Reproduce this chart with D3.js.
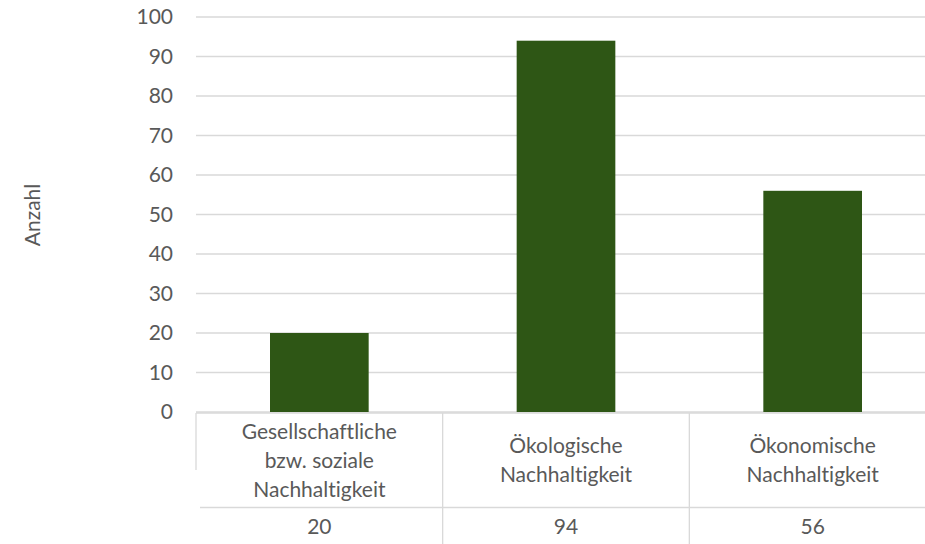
<!DOCTYPE html>
<meta charset="utf-8">
<style>
body { margin: 0; background: #fff; }
text { font-family: Lato, "Open Sans", sans-serif; fill: #595959; font-variant-ligatures: none; }
.grid line { stroke: #d9d9d9; stroke-width: 1.3; }
.table line { stroke: #d9d9d9; stroke-width: 1.3; }
</style>
<svg width="925" height="544"></svg>
<script src="https://d3js.org/d3.v7.min.js"></script>
<script>
// chart data
var categories = [
  ["Gesellschaftliche", "bzw. soziale", "Nachhaltigkeit"],
  ["Ökologische", "Nachhaltigkeit"],
  ["Ökonomische", "Nachhaltigkeit"]
];
var values = [20, 94, 56];
var yTicks = [0, 10, 20, 30, 40, 50, 60, 70, 80, 90, 100];
var yTitle = "Anzahl";

var svg = d3.select("svg");
var plotLeft = 196, plotRight = 936, plotTop = 17, plotBottom = 412;
var fontSize = "21px";

var x = d3.scaleBand()
    .domain(d3.range(values.length))
    .range([plotLeft, plotRight])
    .paddingInner(0.6)
    .paddingOuter(0.3);

var y = d3.scaleLinear()
    .domain([0, 100])
    .range([plotBottom, plotTop]);

// gridlines
svg.append("g")
    .attr("class", "grid")
    .selectAll("line")
    .data(yTicks)
    .enter().append("line")
    .attr("x1", plotLeft)
    .attr("x2", plotRight)
    .attr("y1", function(d) { return y(d); })
    .attr("y2", function(d) { return y(d); });

// y tick labels
svg.append("g")
    .selectAll("text")
    .data(yTicks)
    .enter().append("text")
    .attr("x", 173)
    .attr("y", function(d) { return y(d); })
    .attr("dy", "0.35em")
    .attr("text-anchor", "end")
    .style("font-size", fontSize)
    .text(function(d) { return d; });

// bars
svg.append("g")
    .selectAll("rect")
    .data(values)
    .enter().append("rect")
    .attr("x", function(d, i) { return x(i); })
    .attr("width", x.bandwidth())
    .attr("y", function(d) { return y(d); })
    .attr("height", function(d) { return y(0) - y(d); })
    .attr("fill", "#2e5615");

// y axis title
svg.append("text")
    .attr("transform", "translate(40,215) rotate(-90)")
    .attr("text-anchor", "middle")
    .style("font-size", fontSize)
    .text(yTitle);

// data table below the axis
var step = (plotRight - plotLeft) / values.length;
var rowTop = plotBottom + 1, rowMid = 507.5;
var table = svg.append("g").attr("class", "table");

table.append("line")
    .attr("x1", plotLeft).attr("x2", plotRight)
    .attr("y1", rowTop).attr("y2", rowTop);
table.append("line")
    .attr("x1", plotLeft + 4).attr("x2", plotRight)
    .attr("y1", rowMid).attr("y2", rowMid);
table.append("line")
    .attr("x1", plotLeft).attr("x2", plotLeft)
    .attr("y1", rowTop).attr("y2", 470);
table.selectAll(".sep")
    .data(d3.range(1, values.length))
    .enter().append("line")
    .attr("class", "sep")
    .attr("x1", function(d) { return plotLeft + d * step; })
    .attr("x2", function(d) { return plotLeft + d * step; })
    .attr("y1", rowTop).attr("y2", 544);

var cat = svg.append("g")
    .selectAll("text")
    .data(categories)
    .enter().append("text")
    .attr("text-anchor", "middle")
    .style("font-size", fontSize)
    .attr("transform", function(d, i) {
      var cy = (rowTop + rowMid) / 2 - (d.length - 1) * 29 / 2;
      return "translate(" + (x(i) + x.bandwidth() / 2) + "," + cy + ")";
    });

cat.selectAll("tspan")
    .data(function(d) { return d; })
    .enter().append("tspan")
    .attr("x", 0)
    .attr("y", function(d, j) { return j * 29; })
    .attr("dy", "0.35em")
    .text(function(d) { return d; });

svg.append("g")
    .selectAll("text")
    .data(values)
    .enter().append("text")
    .attr("x", function(d, i) { return x(i) + x.bandwidth() / 2; })
    .attr("y", 527)
    .attr("dy", "0.35em")
    .attr("text-anchor", "middle")
    .style("font-size", fontSize)
    .text(function(d) { return d; });
</script>
